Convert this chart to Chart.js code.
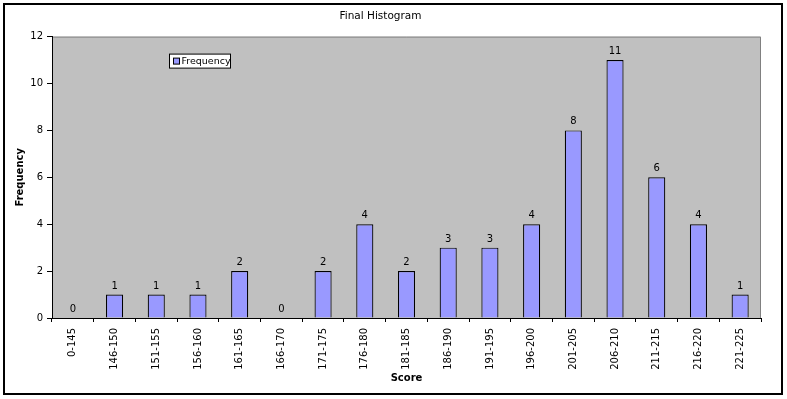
<!DOCTYPE html>
<html>
<head>
<meta charset="utf-8">
<script src="https://cdn.jsdelivr.net/npm/chart.js@4/dist/chart.umd.min.js"></script>
<style>
  html, body { margin: 0; padding: 0; background: #fff; }
  #wrap { width: 787px; height: 399px; position: relative; }
</style>
</head>
<body>
<div id="wrap"><canvas id="histChart"></canvas></div>
<script>
// score bins and how many fall in each
const scoreBins = ["0-145", "146-150", "151-155", "156-160", "161-165", "166-170", "171-175", "176-180",
    "181-185", "186-190", "191-195", "196-200", "201-205", "206-210", "211-215", "216-220", "221-225"];
const frequency = [0, 1, 1, 1, 2, 0, 2, 4, 2, 3, 3, 4, 8, 11, 6, 4, 1];
const yTicks = [0, 2, 4, 6, 8, 10, 12];

const FONT = "'DejaVu Sans', Verdana, sans-serif";

// grey plot area, outer frame
const backdrop = {
    id: "backdrop",
    beforeDraw(chart) {
        const { ctx, chartArea: a } = chart;
        ctx.save();
        ctx.fillStyle = "#fff";
        ctx.fillRect(0, 0, chart.width, chart.height);
        ctx.fillStyle = "#c0c0c0";
        ctx.fillRect(a.left, a.top, a.right - a.left, a.bottom - a.top);
        ctx.strokeStyle = "#808080";
        ctx.lineWidth = 1;
        ctx.beginPath();
        ctx.moveTo(a.left, a.top + 0.5);
        ctx.lineTo(a.right - 0.5, a.top + 0.5);
        ctx.lineTo(a.right - 0.5, a.bottom);
        ctx.stroke();
        ctx.strokeStyle = "#000";
        ctx.lineWidth = 2;
        ctx.strokeRect(4, 4, 778, 390);
        ctx.restore();
    },
};

// value labels over bars + the little legend box
const extras = {
    id: "extras",
    afterDatasetsDraw(chart) {
        const { ctx, chartArea: a } = chart;
        const ds = chart.data.datasets[0];
        const meta = chart.getDatasetMeta(0);
        ctx.save();
        ctx.font = "10px " + FONT;
        ctx.fillStyle = "#000";
        ctx.textAlign = "center";
        ctx.textBaseline = "alphabetic";
        meta.data.forEach((bar, i) => {
            ctx.fillText(String(ds.data[i]), bar.x, bar.y - 6);
        });

        // legend
        const lx = a.left + 117.5, ly = a.top + 17.5;
        ctx.fillStyle = "#fff";
        ctx.fillRect(lx, ly, 61, 14);
        ctx.strokeStyle = "#000";
        ctx.lineWidth = 1;
        ctx.strokeRect(lx, ly, 61, 14);
        ctx.fillStyle = ds.backgroundColor;
        ctx.fillRect(lx + 4, ly + 4, 6, 6);
        ctx.strokeRect(lx + 4, ly + 4, 6, 6);
        ctx.fillStyle = "#000";
        ctx.textAlign = "left";
        ctx.textBaseline = "middle";
        ctx.font = "9.5px " + FONT;
        ctx.fillText(ds.label, lx + 12, ly + 7.5);
        ctx.restore();
    },
};

const ctx = document.getElementById("histChart").getContext("2d");

new Chart(ctx, {
    type: "bar",
    data: {
        labels: scoreBins,
        datasets: [
            {
                label: "Frequency",
                data: frequency,
                backgroundColor: "#9999ff",
                borderColor: "#000",
                borderWidth: 1.2,
                borderSkipped: "bottom",
                barPercentage: 0.41,
                categoryPercentage: 1,
            },
        ],
    },
    options: {
        responsive: true,
        maintainAspectRatio: false,
        animation: false,
        layout: { padding: { left: 0, right: 26, top: 0, bottom: 0 } },
        plugins: {
            legend: { display: false },
            tooltip: { enabled: false },
            title: {
                display: true,
                text: "Final Histogram",
                color: "#000",
                font: { family: FONT, size: 10.5, weight: "normal" },
                padding: { top: 10, bottom: 14 },
            },
        },
        scales: {
            x: {
                grid: {
                    offset: true,
                    drawOnChartArea: false,
                    drawTicks: true,
                    tickLength: 4,
                    color: "#000",
                },
                border: { display: true, color: "#000", width: 1 },
                ticks: {
                    color: "#000",
                    font: { family: FONT, size: 10 },
                    minRotation: 90,
                    maxRotation: 90,
                    autoSkip: false,
                    padding: 6,
                },
                title: {
                    display: true,
                    text: "Score",
                    color: "#000",
                    font: { family: FONT, size: 10, weight: "bold" },
                    padding: { top: 0, bottom: 15 },
                },
                afterFit(scale) { scale.height = 81; },
            },
            y: {
                min: 0,
                max: 12,
                afterBuildTicks(scale) {
                    scale.ticks = yTicks.map(v => ({ value: v }));
                },
                grid: {
                    drawOnChartArea: false,
                    drawTicks: true,
                    tickLength: 5,
                    color: "#000",
                },
                border: { display: true, color: "#000", width: 1 },
                ticks: {
                    color: "#000",
                    font: { family: FONT, size: 10 },
                    padding: 4,
                },
                title: {
                    display: true,
                    text: "Frequency",
                    color: "#000",
                    font: { family: FONT, size: 10, weight: "bold" },
                    padding: { top: 14, bottom: 0 },
                },
                afterFit(scale) { scale.width = 52; },
            },
        },
    },
    plugins: [backdrop, extras],
});
</script>
</body>
</html>
